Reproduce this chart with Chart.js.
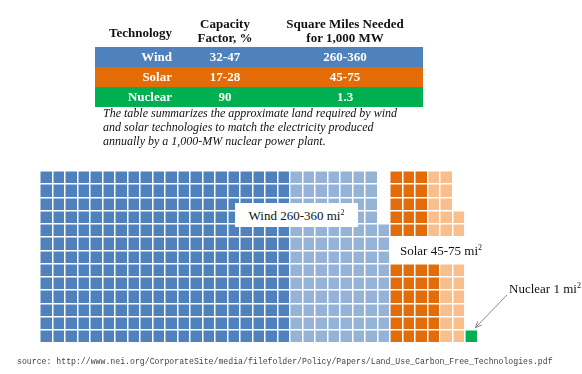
<!DOCTYPE html>
<html><head><meta charset="utf-8">
<script src="https://cdn.jsdelivr.net/npm/chart.js@4/dist/chart.umd.min.js"></script>
<style>
html,body{margin:0;padding:0;background:#fff;width:582px;height:374px;overflow:hidden;position:relative;}
.abs{position:absolute;white-space:nowrap;}
.serif{font-family:"Liberation Serif","Times New Roman",serif;}
#wrap{position:absolute;left:0;top:0;width:582px;height:374px;}
.hdr{font-weight:bold;font-size:13px;line-height:14px;color:#111;}
.band{position:absolute;left:95px;width:328px;height:20px;}
.cell{position:absolute;top:0;height:20px;line-height:20px;color:#fff;font-weight:bold;font-size:13px;}
.lbl{background:#fff;font-size:13px;color:#111;}
.sup{font-size:8px;position:relative;top:-5px;}
</style></head>
<body>
<div id="wrap"><canvas id="c" width="582" height="374"></canvas></div>
<div id="overlay"></div>
<script>
// ---- data ----
const technologies   = ['Wind', 'Solar', 'Nuclear'];
const capacityFactor = ['32-47', '17-28', '90'];
const squareMiles    = ['260-360', '45-75', '1.3'];
const landLow        = [260, 45, 1];   // mi² (dark cells)
const landHigh       = [360, 75, 1];   // mi² (dark + light cells)
const cellsPerColumn = 13;
const headers = ['Technology', 'Capacity<br>Factor, %', 'Square Miles Needed<br>for 1,000 MW'];
const caption = 'The table summarizes the approximate land required by wind<br>and solar technologies to match the electricity produced<br>annually by a 1,000-MW nuclear power plant.';
const sourceText = 'source: http://www.nei.org/CorporateSite/media/filefolder/Policy/Papers/Land_Use_Carbon_Free_Technologies.pdf';

// ---- styles ----
const darkColors  = ['#4f81bd', '#e36c09', '#00b050'];
const lightColors = ['#95b3d7', '#f8bf8c', '#00b050'];

// ---- build waffle columns ----
let nCols = 0;
const starts = [];
technologies.forEach((t, i) => { starts.push(nCols); nCols += Math.ceil(landHigh[i] / cellsPerColumn); });
const labels = Array.from({length: nCols}, (_, k) => String(k));
const datasets = [];
technologies.forEach((t, i) => {
  const base = new Array(nCols).fill(0), extra = new Array(nCols).fill(0);
  for (let c = 0; c < landHigh[i]; c++) {
    const col = starts[i] + Math.floor(c / cellsPerColumn);
    if (c < landLow[i]) base[col]++; else extra[col]++;
  }
  datasets.push({label: t + ' low', data: base, backgroundColor: darkColors[i]});
  datasets.push({label: t + ' high', data: extra, backgroundColor: lightColors[i]});
});

const arrowPlugin = {
  id: 'arrow',
  afterDraw(chart) {
    const xs = chart.scales.x, ys = chart.scales.y, ctx = chart.ctx;
    const col = starts[2];
    const cx = xs.getPixelForValue(col);
    const top = ys.getPixelForValue(landHigh[2]);
    const tx = cx + 4, ty = top - 2;
    const sx = 507, sy = 295;
    ctx.save();
    ctx.strokeStyle = '#8a8a8a'; ctx.lineWidth = 1;
    ctx.beginPath(); ctx.moveTo(sx, sy); ctx.lineTo(tx, ty); ctx.stroke();
    const ang = Math.atan2(ty - sy, tx - sx);
    ctx.beginPath();
    ctx.moveTo(tx - 7 * Math.cos(ang - 0.4), ty - 7 * Math.sin(ang - 0.4));
    ctx.lineTo(tx, ty);
    ctx.lineTo(tx - 7 * Math.cos(ang + 0.4), ty - 7 * Math.sin(ang + 0.4));
    ctx.stroke();
    ctx.restore();
  }
};

new Chart(document.getElementById('c'), {
  type: 'bar',
  data: {labels, datasets},
  options: {
    responsive: false, animation: false, devicePixelRatio: 1,
    layout: {padding: {left: 40, top: 171, right: 104.5, bottom: 31}},
    plugins: {legend: {display: false}, tooltip: {enabled: false}},
    datasets: {bar: {barPercentage: 1, categoryPercentage: 1, borderWidth: 0}},
    scales: {
      x: {stacked: true, ticks: {display: false}, border: {display: false},
          grid: {color: '#ffffff', lineWidth: 1.5, drawTicks: false, offset: true, z: 1}},
      y: {stacked: true, min: 0, max: cellsPerColumn, ticks: {display: false, stepSize: 1},
          border: {display: false},
          grid: {color: '#ffffff', lineWidth: 1.5, drawTicks: false, z: 1}}
    }
  },
  plugins: [arrowPlugin]
});

// ---- overlay text ----
const ov = document.getElementById('overlay');
function add(html, cls, css) {
  const d = document.createElement('div');
  d.className = 'abs ' + cls; d.innerHTML = html; Object.assign(d.style, css); ov.appendChild(d); return d;
}
const colBoxes = [{left: 0, width: 77, textAlign: 'right'}, {left: 95, width: 70, textAlign: 'center'}, {left: 175, width: 150, textAlign: 'center'}];
add(headers[0], 'serif hdr', {left: '95px', width: '77px', textAlign: 'right', top: '26px'});
add(headers[1], 'serif hdr', {left: '190px', width: '70px', textAlign: 'center', top: '17px'});
add(headers[2], 'serif hdr', {left: '270px', width: '150px', textAlign: 'center', top: '17px'});
const bandTops = [47, 67, 87];
technologies.forEach((t, i) => {
  const band = add('', 'band', {top: bandTops[i] + 'px', background: darkColors[i]});
  [t, capacityFactor[i], squareMiles[i]].forEach((txt, j) => {
    const c = document.createElement('div');
    c.className = 'cell serif'; c.textContent = txt;
    Object.assign(c.style, {left: colBoxes[j].left + 'px', width: colBoxes[j].width + 'px', textAlign: colBoxes[j].textAlign});
    band.appendChild(c);
  });
});
add(caption, 'serif', {left: '103px', top: '106px', fontStyle: 'italic', fontSize: '12px', lineHeight: '14px', color: '#111'});
add(technologies[0] + ' ' + landLow[0] + '-' + landHigh[0] + ' mi<span class="sup">2</span>', 'serif lbl',
    {left: '235px', top: '203px', width: '123px', height: '24px', lineHeight: '25px', textAlign: 'center'});
add(technologies[1] + ' ' + landLow[1] + '-' + landHigh[1] + ' mi<span class="sup">2</span>', 'serif lbl',
    {left: '390px', top: '237px', width: '90px', height: '26px', lineHeight: '27px', paddingLeft: '10px', boxSizing: 'border-box'});
add(technologies[2] + ' ' + landLow[2] + ' mi<span class="sup">2</span>', 'serif lbl',
    {left: '509px', top: '281px', lineHeight: '16px', background: 'transparent'});
add(sourceText, '', {left: '17px', top: '356px', fontFamily: '"Liberation Mono","DejaVu Sans Mono",monospace', fontSize: '8.2px', lineHeight: '12px', color: '#444'});
</script>
</body></html>
